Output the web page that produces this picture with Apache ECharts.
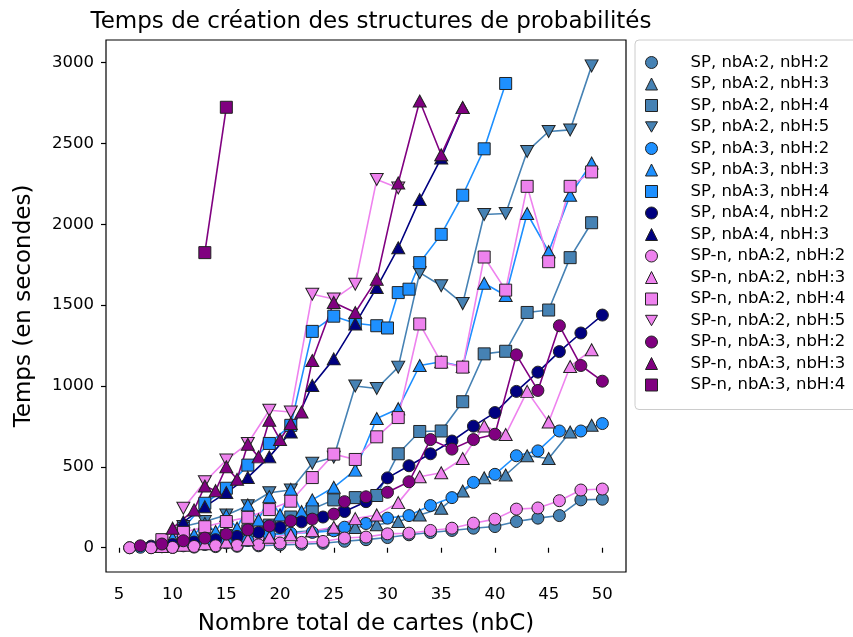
<!DOCTYPE html>
<html>
<head>
<meta charset="utf-8">
<script src="https://cdn.jsdelivr.net/npm/echarts@6/dist/echarts.min.js"></script>
<style>html,body{margin:0;padding:0;background:#fff;}#c{width:853px;height:637px;}</style>
</head>
<body>
<div id="c"></div>
<script>
// ---- data ----
const xTicks = [5,10,15,20,25,30,35,40,45,50];
const yTicks = [0,500,1000,1500,2000,2500,3000];

const seriesNames = [
  'SP, nbA:2, nbH:2','SP, nbA:2, nbH:3','SP, nbA:2, nbH:4','SP, nbA:2, nbH:5',
  'SP, nbA:3, nbH:2','SP, nbA:3, nbH:3','SP, nbA:3, nbH:4',
  'SP, nbA:4, nbH:2','SP, nbA:4, nbH:3',
  'SP-n, nbA:2, nbH:2','SP-n, nbA:2, nbH:3','SP-n, nbA:2, nbH:4','SP-n, nbA:2, nbH:5',
  'SP-n, nbA:3, nbH:2','SP-n, nbA:3, nbH:3','SP-n, nbA:3, nbH:4'
];

const x_sp_a2_h2 = [6,8,10,12,14,16,18,20,22,24,26,28,30,32,34,36,38,40,42,44,46,48,50];
const y_sp_a2_h2 = [0,1,2,4,7,9,12,18,22,28,40,50,63,80,94,107,121,131,162,183,199,296,300];

const x_sp_a2_h3 = [9,11,13,15,17,19,21,23,25,27,29,31,33,35,37,39,41,43,45,47,49];
const y_sp_a2_h3 = [10,20,35,50,65,80,95,105,115,125,142,162,203,244,351,433,450,569,552,716,757];

const x_sp_a2_h4 = [9,11,13,15,17,19,21,23,25,27,29,31,33,35,37,39,41,43,45,47,49];
const y_sp_a2_h4 = [15,30,50,75,105,140,190,240,296,310,323,581,719,722,903,1199,1215,1455,1470,1794,2010];

const x_sp_a2_h5 = [11,13,15,17,19,21,23,25,27,29,31,33,35,37,39,41,43,45,47,49];
const y_sp_a2_h5 = [131,162,203,260,340,357,523,560,1000,985,1117,1701,1620,1510,2061,2067,2451,2574,2584,2980];

const x_sp_a3_h2 = [7,9,11,13,15,17,19,21,23,25,26,28,30,32,34,36,38,40,42,44,46,48,50];
const y_sp_a3_h2 = [3,6,12,20,30,45,80,90,95,105,127,150,183,199,261,310,404,454,569,599,722,722,768];

const x_sp_a3_h3 = [10,11,12,13,14,15,16,17,18,19,20,21,22,23,25,27,29,31,33,35,37,39,41,43,45,47,49];
const y_sp_a3_h3 = [60,90,80,150,100,200,121,265,172,316,203,361,224,296,374,480,799,860,1127,1150,1120,1636,1560,2067,1831,2180,2379];

const x_sp_a3_h4 = [11,13,15,17,19,21,23,25,27,29,30,31,32,33,35,37,39,41];
const y_sp_a3_h4 = [120,275,368,511,645,757,1338,1432,1388,1373,1359,1578,1599,1763,1938,2180,2467,2871];

const x_sp_a4_h2 = [8,10,12,14,16,18,20,22,24,26,28,30,32,34,36,38,40,42,44,46,48,50];
const y_sp_a4_h2 = [10,20,35,50,70,95,125,160,190,224,285,432,507,581,660,752,836,967,1086,1213,1328,1439];

const x_sp_a4_h3 = [11,13,15,17,19,21,23,25,27,29,31,33,35,37];
const y_sp_a4_h3 = [160,254,341,435,562,716,1004,1168,1384,1609,1855,2153,2410,2722];

const x_spn_a2_h2 = [6,8,10,12,14,16,18,20,22,24,26,28,30,32,34,36,38,40,42,44,46,48,50];
const y_spn_a2_h2 = [0,0,2,8,12,14,18,29,33,39,60,66,86,90,107,121,152,177,239,246,291,357,363];

const x_spn_a2_h3 = [9,11,13,15,17,19,21,23,25,27,29,31,33,35,37,39,41,43,45,47,49];
const y_spn_a2_h3 = [8,15,25,35,50,65,80,105,127,180,203,279,439,464,552,753,700,967,778,1121,1224];

const x_spn_a2_h4 = [9,11,13,15,17,19,21,23,25,27,29,31,33,35,37,39,41,43,45,47,49];
const y_spn_a2_h4 = [50,95,130,162,188,236,288,434,579,546,686,805,1384,1147,1117,1798,1593,2235,1769,2235,2324];

const x_spn_a2_h5 = [11,13,15,17,19,21,23,25,27,29,31];
const y_spn_a2_h5 = [244,408,542,645,850,839,1568,1538,1630,2277,2225];

const x_spn_a3_h2 = [7,9,11,13,15,17,19,21,23,25,26,28,30,32,34,36,38,40,42,44,46,48,50];
const y_spn_a3_h2 = [12,23,43,60,84,111,135,166,177,208,285,315,343,408,669,610,669,702,1193,973,1373,1127,1030];

const x_spn_a3_h3 = [10,12,13,14,15,16,17,18,19,20,21,22,23,25,27,29,31,33,35,37];
const y_spn_a3_h3 = [121,234,382,353,501,423,640,562,788,669,768,839,1158,1517,1455,1661,2256,2763,2430,2722];

const x_spn_a3_h4 = [13,15];
const y_spn_a3_h4 = [1825,2724];

// ---- styles ----
const C_STEEL = '#4682B4', C_DODGER = '#1E90FF', C_NAVY = '#000080', C_VIOLET = '#EE82EE', C_PURPLE = '#800080';
const DOWN = 'path://M0,0L20,0L10,17.3Z';
const MK = {2:'circle', 3:'triangle', 4:'rect', 5:DOWN};
const SZ = {2:12, 3:[13,12], 4:12, 5:[13,12]};

const defs = [
  [x_sp_a2_h2, y_sp_a2_h2, C_STEEL, 2],
  [x_sp_a2_h3, y_sp_a2_h3, C_STEEL, 3],
  [x_sp_a2_h4, y_sp_a2_h4, C_STEEL, 4],
  [x_sp_a2_h5, y_sp_a2_h5, C_STEEL, 5],
  [x_sp_a3_h2, y_sp_a3_h2, C_DODGER, 2],
  [x_sp_a3_h3, y_sp_a3_h3, C_DODGER, 3],
  [x_sp_a3_h4, y_sp_a3_h4, C_DODGER, 4],
  [x_sp_a4_h2, y_sp_a4_h2, C_NAVY, 2],
  [x_sp_a4_h3, y_sp_a4_h3, C_NAVY, 3],
  [x_spn_a2_h2, y_spn_a2_h2, C_VIOLET, 2],
  [x_spn_a2_h3, y_spn_a2_h3, C_VIOLET, 3],
  [x_spn_a2_h4, y_spn_a2_h4, C_VIOLET, 4],
  [x_spn_a2_h5, y_spn_a2_h5, C_VIOLET, 5],
  [x_spn_a3_h2, y_spn_a3_h2, C_PURPLE, 2],
  [x_spn_a3_h3, y_spn_a3_h3, C_PURPLE, 3],
  [x_spn_a3_h4, y_spn_a3_h4, C_PURPLE, 4]
];

const FONT = 'DejaVu Sans';
const series = defs.map((d, i) => ({
  name: seriesNames[i],
  type: 'line',
  data: d[0].map((x, k) => [x, d[1][k]]),
  symbol: MK[d[3]],
  symbolSize: SZ[d[3]],
  showAllSymbol: true,
  lineStyle: { color: d[2], width: 1.6 },
  itemStyle: { color: d[2], borderColor: '#222', borderWidth: 1 },
  emphasis: { disabled: true },
  animation: false,
  z: 2
}));

const chart = echarts.init(document.getElementById('c'), null, { renderer: 'canvas' });
chart.setOption({
  animation: false,
  backgroundColor: '#fff',
  title: {
    text: 'Temps de création des structures de probabilités',
    left: 366, top: 6, textAlign: 'center',
    textStyle: { fontFamily: FONT, fontSize: 23, fontWeight: 'normal', color: '#000' }
  },
  grid: { left: 106, top: 40, width: 520, height: 532, outerBoundsMode: 'none', containLabel: false, show: true, borderColor: '#000', borderWidth: 1.2, backgroundColor: 'transparent' },
  xAxis: {
    type: 'value', min: 3.8, max: 52.2,
    name: 'Nombre total de cartes (nbC)', nameLocation: 'middle', nameGap: 41,
    nameTextStyle: { fontFamily: FONT, fontSize: 23, color: '#000' },
    axisLine: { show: false },
    axisTick: { show: true, inside: false, length: 5, customValues: xTicks, lineStyle: { color: '#000', width: 1.2 } },
    axisLabel: { customValues: xTicks, fontFamily: FONT, fontSize: 16.5, color: '#000', margin: 14 },
    splitLine: { show: false }
  },
  yAxis: {
    type: 'value', min: -150, max: 3140,
    name: 'Temps (en secondes)', nameLocation: 'middle', nameGap: 70,
    nameTextStyle: { fontFamily: FONT, fontSize: 23, color: '#000' },
    axisLine: { show: false },
    axisTick: { show: true, inside: false, length: 5, customValues: yTicks, lineStyle: { color: '#000', width: 1.2 } },
    axisLabel: { customValues: yTicks, fontFamily: FONT, fontSize: 16.5, color: '#000', margin: 12, formatter: v => String(v) },
    splitLine: { show: false }
  },
  legend: {
    orient: 'vertical', left: 635, top: 40,
    itemWidth: 12, itemHeight: 12, itemGap: 4.5,
    padding: [14, 20, 16, 10],
    backgroundColor: '#fff', borderColor: '#ccc', borderWidth: 1, borderRadius: 4,
    textStyle: { fontFamily: FONT, fontSize: 16.5, color: '#000', lineHeight: 17, padding: [0, 0, 0, 28] },
    itemStyle: { borderColor: '#222', borderWidth: 1 },
    data: seriesNames.map((n, i) => ({ name: n, icon: MK[defs[i][3]] })),
    selectedMode: false
  },
  series: series
});
</script>
</body>
</html>
